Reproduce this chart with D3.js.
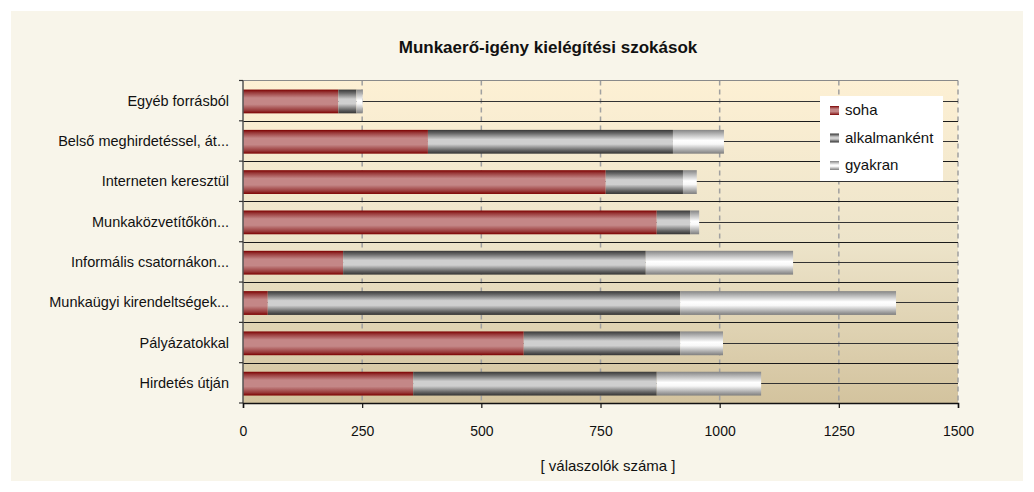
<!DOCTYPE html>
<html>
<head>
<meta charset="utf-8">
<script src="https://cdn.jsdelivr.net/npm/d3@7"></script>
<style>
  body { margin: 0; background: #fff; }
  svg { display: block; }
  .cat { font-family: "Liberation Sans Narrow", "Arial Narrow", "Liberation Sans", Arial, sans-serif; font-size: 14.5px; fill: #111; }
  .tick-label { font-family: "Liberation Sans Narrow", "Arial Narrow", "Liberation Sans", Arial, sans-serif; font-size: 14px; fill: #111; }
</style>
</head>
<body>
<div id="chart"></div>
<script>
// categories, top to bottom as shown
var categories = ["Egyéb forrásból", "Belső meghirdetéssel, át...", "Interneten keresztül",
  "Munkaközvetítőkön...", "Informális csatornákon...", "Munkaügyi kirendeltségek...",
  "Pályázatokkal", "Hirdetés útján"];
var seriesNames = ["soha", "alkalmanként", "gyakran"];
var soha = [200, 388, 761, 868, 210, 52, 589, 357];
var alkalmankent = [38, 514, 162, 70, 635, 865, 328, 511];
var gyakran = [13, 107, 29, 19, 309, 453, 90, 219];
var xTicks = [0, 250, 500, 750, 1000, 1250, 1500];

var width = 1034, height = 492;
var svg = d3.select("#chart").append("svg")
  .attr("width", width).attr("height", height);

var defs = svg.append("defs");
function grad(id, stops) {
  var g = defs.append("linearGradient").attr("id", id)
    .attr("x1", 0).attr("y1", 0).attr("x2", 0).attr("y2", 1);
  stops.forEach(function(s) {
    g.append("stop").attr("offset", s[0]).attr("stop-color", s[1]);
  });
}
grad("g-soha", [[0, "#7c0000"], [0.12, "#983838"], [0.35, "#c48787"], [0.62, "#c48787"], [0.88, "#983838"], [1, "#7c0000"]]);
grad("g-alk", [[0, "#383838"], [0.15, "#6a6a6a"], [0.4, "#cfcfcf"], [0.6, "#cfcfcf"], [0.85, "#666"], [1, "#333"]]);
grad("g-gyak", [[0, "#858585"], [0.2, "#bcbcbc"], [0.45, "#ffffff"], [0.6, "#f8f8f8"], [0.85, "#aaa"], [1, "#7e7e7e"]]);
grad("g-bg", [[0, "#fdf0d4"], [0.5, "#ede4ca"], [1, "#d3c39e"]]);
var fills = ["url(#g-soha)", "url(#g-alk)", "url(#g-gyak)"];

// outer panel
svg.append("rect").attr("x", 11).attr("y", 11).attr("width", 1012).attr("height", 470)
  .attr("fill", "#f8f5ea");

var x = d3.scaleLinear().domain([0, 1500]).range([243, 958]);
var y = d3.scaleBand().domain(categories).range([80.5, 403]).padding(0);
var bw = y.bandwidth();

// plot background
svg.append("rect").attr("x", x(0)).attr("y", y.range()[0])
  .attr("width", x(1500) - x(0)).attr("height", y.range()[1] - y.range()[0])
  .attr("fill", "url(#g-bg)");

// vertical dashed gridlines
svg.append("g").selectAll("line").data(xTicks.slice(1)).join("line")
  .attr("x1", d => x(d)).attr("x2", d => x(d))
  .attr("y1", y.range()[0]).attr("y2", y.range()[1])
  .attr("stroke", "#a0a0a0").attr("stroke-width", 1.5).attr("stroke-dasharray", "5,4");

// horizontal lines: category boundaries and centres
svg.append("g").selectAll("line").data(categories.slice(1)).join("line")
  .attr("x1", x(0)).attr("x2", x(1500))
  .attr("y1", d => Math.round(y(d)) + 0.5).attr("y2", d => Math.round(y(d)) + 0.5)
  .attr("stroke", "#1a1a1a").attr("stroke-width", 1.2);
svg.append("g").selectAll("line").data(categories).join("line")
  .attr("x1", x(0)).attr("x2", x(1500))
  .attr("y1", d => Math.round(y(d) + bw / 2) + 0.5).attr("y2", d => Math.round(y(d) + bw / 2) + 0.5)
  .attr("stroke", "#333").attr("stroke-width", 1.2);

// stacked bars
var table = categories.map(function(c, i) {
  return { cat: c, soha: soha[i], alk: alkalmankent[i], gyak: gyakran[i] };
});
var stack = d3.stack().keys(["soha", "alk", "gyak"])(table);
var barH = bw * 0.59;
svg.append("g").selectAll("g").data(stack).join("g")
  .attr("fill", (d, i) => fills[i])
  .selectAll("rect").data(d => d).join("rect")
  .attr("x", d => x(d[0]))
  .attr("width", d => x(d[1]) - x(d[0]))
  .attr("y", d => y(d.data.cat) + (bw - barH) / 2 + 0.8)
  .attr("height", barH);

// top border
svg.append("line").attr("x1", x(0)).attr("x2", x(1500))
  .attr("y1", y.range()[0]).attr("y2", y.range()[0])
  .attr("stroke", "#8a8a8a").attr("stroke-width", 1.2);

// left axis
var yAxis = svg.append("g");
yAxis.append("line").attr("x1", x(0)).attr("x2", x(0))
  .attr("y1", y.range()[0]).attr("y2", y.range()[1])
  .attr("stroke", "#555").attr("stroke-width", 1.5);
yAxis.selectAll(".yt").data(categories.concat([null])).join("line").attr("class", "yt")
  .attr("x1", x(0) - 4).attr("x2", x(0))
  .attr("y1", d => d === null ? y.range()[1] : y(d))
  .attr("y2", d => d === null ? y.range()[1] : y(d))
  .attr("stroke", "#333").attr("stroke-width", 1.2);
yAxis.selectAll("text").data(categories).join("text").attr("class", "cat")
  .attr("x", 229).attr("y", d => y(d) + bw / 2)
  .attr("dy", "0.35em").attr("text-anchor", "end").text(d => d);

// bottom axis
var xAxis = svg.append("g").attr("transform", "translate(0," + y.range()[1] + ")")
  .call(d3.axisBottom(x).tickValues(xTicks).tickSize(5).tickPadding(18).tickFormat(d3.format("d")));
xAxis.select(".domain").attr("stroke", "#111").attr("stroke-width", 1.5);
xAxis.selectAll(".tick line").attr("stroke", "#111").attr("stroke-width", 1.2);
xAxis.selectAll(".tick text").attr("class", "tick-label").attr("fill", "#111");

// axis title
svg.append("text").attr("x", 608).attr("y", 466).attr("dy", "0.35em")
  .attr("text-anchor", "middle").attr("class", "cat").style("font-size", "15px")
  .text("[ válaszolók száma ]");

// chart title
svg.append("text").attr("x", 548).attr("y", 47).attr("dy", "0.35em")
  .attr("text-anchor", "middle")
  .style("font-family", "'Liberation Sans', Arial, sans-serif")
  .style("font-size", "17px").style("font-weight", "bold").attr("fill", "#111")
  .text("Munkaerő-igény kielégítési szokások");

// legend
var legend = svg.append("g").attr("transform", "translate(820,96)");
legend.append("rect").attr("width", 123).attr("height", 85).attr("fill", "#fff");
var items = legend.selectAll("g").data(seriesNames).join("g")
  .attr("transform", (d, i) => "translate(10," + (14 + i * 27.5) + ")");
items.append("rect").attr("x", 0).attr("y", -4).attr("width", 9).attr("height", 9)
  .attr("fill", (d, i) => fills[i]);
items.append("text").attr("x", 15).attr("y", 0).attr("dy", "0.35em")
  .style("font-family", "'Liberation Sans', Arial, sans-serif").style("font-size", "15px")
  .attr("fill", "#111").text(d => d);
</script>
</body>
</html>
